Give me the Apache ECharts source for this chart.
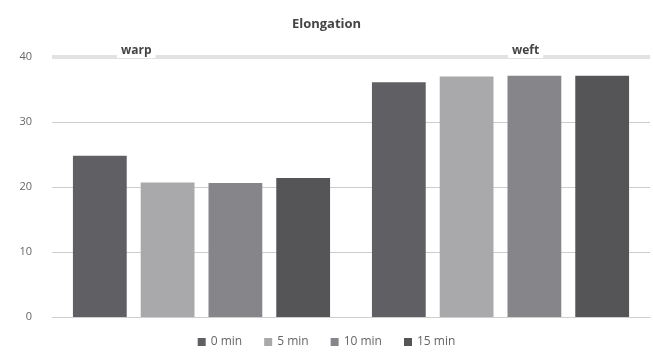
<!DOCTYPE html>
<html>
<head>
<meta charset="utf-8">
<script src="https://cdn.jsdelivr.net/npm/echarts@6/dist/echarts.min.js"></script>
<style>
html,body{margin:0;padding:0;background:#fff;}
#chart{width:653px;height:356px;}
</style>
</head>
<body>
<div id="chart"></div>
<script>
// Elongation by direction and treatment time
const categories = ['warp', 'weft'];
const seriesNames = ['0 min', '5 min', '10 min', '15 min'];
const min0 = [24.8, 36.1];
const min5 = [20.7, 37.0];
const min10 = [20.6, 37.1];
const min15 = [21.4, 37.1];
const yTicks = [0, 10, 20, 30, 40];

const colors = ['#606064', '#a9a9ac', '#86868a', '#555557'];
const values = [min0, min5, min10, min15];

const chart = echarts.init(document.getElementById('chart'));
chart.setOption({
  animation: false,
  title: {
    text: 'Elongation',
    left: 'center',
    top: 13,
    textStyle: { fontFamily: 'Open Sans', fontSize: 13, fontWeight: 'bold', color: '#444' }
  },
  legend: {
    bottom: 3,
    left: 'center',
    itemWidth: 8,
    itemHeight: 8,
    itemGap: 22,
    icon: 'rect',
    textStyle: { fontFamily: 'Open Sans', fontSize: 12, color: '#666' },
    data: seriesNames
  },
  grid: { left: 52, right: 3, top: 57, bottom: 39 },
  xAxis: {
    type: 'category',
    data: categories,
    axisLine: { lineStyle: { color: '#cfcfcf' } },
    axisTick: { show: false },
    axisLabel: { show: false }
  },
  yAxis: {
    type: 'value',
    min: yTicks[0],
    max: yTicks[yTicks.length - 1],
    interval: 10,
    axisLine: { show: false },
    axisTick: { show: false },
    axisLabel: { fontFamily: 'Open Sans', fontSize: 11, color: '#666', margin: 20 },
    splitLine: { lineStyle: { color: '#cdcdcd', width: 1 } }
  },
  graphic: [
    {
      type: 'text', left: 117, top: 44, z: 100,
      style: { text: categories[0], font: 'bold 12px "Open Sans"', fill: '#444', backgroundColor: '#fff', padding: [1, 4] }
    },
    {
      type: 'text', left: 508, top: 44, z: 100,
      style: { text: categories[1], font: 'bold 12px "Open Sans"', fill: '#444', backgroundColor: '#fff', padding: [1, 4] }
    }
  ],
  series: seriesNames.map((name, i) => ({
    name: name,
    type: 'bar',
    data: values[i],
    barGap: '26%',
    barCategoryGap: '14%',
    itemStyle: { color: colors[i] },
    markLine: i === 0 ? {
      silent: true,
      symbol: 'none',
      label: { show: false },
      lineStyle: { color: '#e2e2e2', width: 4, type: 'solid' },
      data: [{ yAxis: 40 }]
    } : undefined
  }))
});
</script>
</body>
</html>
